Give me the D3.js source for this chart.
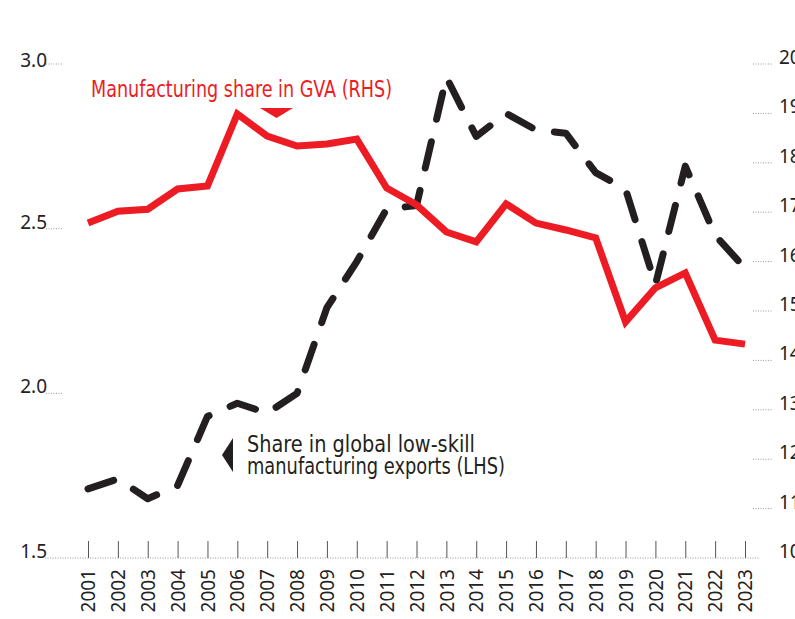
<!DOCTYPE html>
<html>
<head>
<meta charset="utf-8">
<script src="https://cdn.jsdelivr.net/npm/d3@7"></script>
<style>
  body { margin: 0; background: #fff; }
  svg { display: block; }
  .lbl { font-family: "Noto Sans", "Open Sans", sans-serif; font-size: 19px; fill: #222; }
  .note { font-family: "Liberation Sans Narrow", "DejaVu Sans Condensed", "Roboto", sans-serif; font-stretch: condensed; font-size: 23px; }
</style>
</head>
<body>
<div id="chart"></div>
<script>
const width = 795;
const height = 619;

const years = [2001, 2002, 2003, 2004, 2005, 2006, 2007, 2008, 2009, 2010, 2011, 2012,
               2013, 2014, 2015, 2016, 2017, 2018, 2019, 2020, 2021, 2022, 2023];
// share in global low-skill manufacturing exports, % (LHS)
const exportShare = [1.71, 1.74, 1.68, 1.72, 1.93, 1.97, 1.94, 2.00, 2.26, 2.40, 2.56, 2.57,
                     2.96, 2.78, 2.85, 2.80, 2.79, 2.67, 2.62, 2.33, 2.69, 2.48, 2.38];
// manufacturing share in GVA, % (RHS)
const gvaShare = [16.78, 17.02, 17.06, 17.47, 17.53, 18.99, 18.54, 18.34, 18.38, 18.48, 17.49, 17.15,
                  16.60, 16.40, 17.17, 16.78, 16.64, 16.48, 14.78, 15.47, 15.77, 14.41, 14.33];
const leftTicks = [1.5, 2.0, 2.5, 3.0];
const rightTicks = [10, 11, 12, 13, 14, 15, 16, 17, 18, 19, 20];

const red = '#ed1c24';
const black = '#231f20';

const x = d3.scaleLinear().domain([2001, 2023]).range([88, 745]);
const yL = d3.scaleLinear().domain([1.5, 3.0]).range([558, 64]);
const yR = d3.scaleLinear().domain([10, 20]).range([558, 64]);

const svg = d3.select('#chart')
    .append('svg')
    .attr('width', width)
    .attr('height', height);

// baseline
svg.append('line')
    .attr('x1', 45).attr('x2', 760)
    .attr('y1', yL(1.5)).attr('y2', yL(1.5))
    .attr('stroke', '#999')
    .attr('stroke-width', 1)
    .attr('stroke-dasharray', '1,1.5');

// x axis: ticks pointing up, rotated year labels
const xAxis = g => g
    .attr('transform', `translate(0,${yL(1.5)})`)
    .call(d3.axisBottom(x).tickValues(years).tickFormat(d3.format('d')).tickSize(-17).tickPadding(10))
    .call(g => g.select('.domain').remove())
    .call(g => g.selectAll('.tick line').attr('stroke', '#555').attr('stroke-width', 1))
    .call(g => g.selectAll('.tick text')
        .attr('class', 'lbl')
        .attr('transform', 'rotate(-90)')
        .attr('text-anchor', 'end')
        .attr('x', -11)
        .attr('y', 0)
        .attr('dy', '0.35em'));

svg.append('g').call(xAxis);

// left axis
const left = svg.append('g')
    .selectAll('g')
    .data(leftTicks)
    .join('g')
    .attr('transform', d => `translate(0,${yL(d)})`);

left.filter(d => d !== 1.5).append('line')
    .attr('x1', 46).attr('x2', 63)
    .attr('stroke', '#999')
    .attr('stroke-dasharray', '1,1.5');

left.append('text')
    .attr('class', 'lbl')
    .attr('x', 47)
    .attr('y', d => d === 3.0 ? 3 : 0)
    .attr('text-anchor', 'end')
    .text(d3.format('.1f'));

// right axis (labels run off the right edge, as in the source)
const right = svg.append('g')
    .selectAll('g')
    .data(rightTicks)
    .join('g')
    .attr('transform', d => `translate(0,${yR(d)})`);

right.filter(d => d !== 10).append('line')
    .attr('x1', 753).attr('x2', 772)
    .attr('stroke', '#999')
    .attr('stroke-dasharray', '1,1.5');

right.append('text')
    .attr('class', 'lbl')
    .attr('x', 779)
    .attr('y', 0)
    .text(d => d);

// lines
const lineL = d3.line()
    .x((d, i) => x(years[i]))
    .y(d => yL(d));

const lineR = d3.line()
    .x((d, i) => x(years[i]))
    .y(d => yR(d));

svg.append('path')
    .datum(exportShare)
    .attr('d', lineL)
    .attr('fill', 'none')
    .attr('stroke', black)
    .attr('stroke-width', 7)
    .attr('stroke-linecap', 'round')
    .attr('stroke-linejoin', 'round')
    .attr('stroke-dasharray', '27,23');

svg.append('path')
    .datum(gvaShare)
    .attr('d', lineR)
    .attr('fill', 'none')
    .attr('stroke', red)
    .attr('stroke-width', 7)
    .attr('stroke-linejoin', 'miter');

// annotations
svg.append('text')
    .attr('class', 'note')
    .attr('x', 91)
    .attr('y', 97)
    .attr('fill', red)
    .attr('textLength', 301)
    .attr('lengthAdjust', 'spacingAndGlyphs')
    .text('Manufacturing share in GVA (RHS)');

svg.append('path')
    .attr('d', 'M260,108 L293,108 L276.5,118 Z')
    .attr('fill', red);

const note2 = svg.append('text')
    .attr('class', 'note')
    .attr('fill', black);
note2.append('tspan').attr('x', 247).attr('y', 452)
    .attr('textLength', 228).attr('lengthAdjust', 'spacingAndGlyphs')
    .text('Share in global low-skill');
note2.append('tspan').attr('x', 247).attr('y', 474)
    .attr('textLength', 258).attr('lengthAdjust', 'spacingAndGlyphs')
    .text('manufacturing exports (LHS)');

svg.append('path')
    .attr('d', 'M233,438 L233,472 L222,455 Z')
    .attr('fill', black);
</script>
</body>
</html>
